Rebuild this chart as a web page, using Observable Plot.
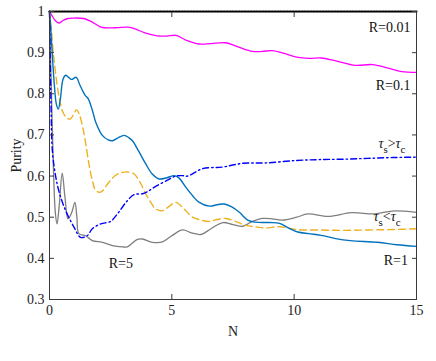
<!DOCTYPE html>
<html>
<head>
<meta charset="utf-8">
<script src="https://cdn.jsdelivr.net/npm/d3@7"></script>
<script src="https://cdn.jsdelivr.net/npm/@observablehq/plot@0.6"></script>
<style>
  body { margin: 0; background: #fff; }
  #chart { width: 436px; height: 361px; }
  #chart svg, #chart svg text { font-family: 'Liberation Serif', serif !important; }
</style>
</head>
<body>
<div id="chart"></div>
<script>
// ---- data ----
const xTicks = [0, 5, 10, 15];
const yTicks = [0.3, 0.4, 0.5, 0.6, 0.7, 0.8, 0.9, 1];

const r001N = [0, 15];
const r001P = [1, 1];

const r01N = [0,0.1,0.25,0.4,0.55,0.75,0.95,1.4,1.7,2.1,2.5,2.8,3.2,3.5,3.9,4.4,4.8,5.16,5.6,6.1,6.6,7.2,7.7,8.3,8.7,9.1,9.6,10.1,10.6,11.1,11.7,12.5,13.2,13.8,14.4,15];
const r01P = [1,0.99,0.977,0.972,0.978,0.983,0.984,0.983,0.976,0.962,0.96,0.961,0.962,0.958,0.948,0.941,0.94,0.942,0.93,0.921,0.922,0.924,0.914,0.903,0.903,0.905,0.898,0.889,0.886,0.887,0.88,0.869,0.871,0.863,0.854,0.852];

const r1N = [0,0.05,0.11,0.2,0.28,0.36,0.45,0.55,0.66,0.78,0.9,1.09,1.25,1.45,1.58,1.75,1.89,2.16,2.4,2.57,2.8,3.05,3.25,3.39,3.65,3.93,4.2,4.48,4.8,5.1,5.3,5.57,5.85,6.12,6.53,6.9,7.15,7.45,7.76,8.1,8.4,9.0,9.4,9.8,10.15,10.6,11.1,11.7,12.3,13.4,14.2,15];
const r1P = [1,0.96,0.9,0.82,0.775,0.763,0.79,0.835,0.845,0.84,0.835,0.84,0.82,0.797,0.788,0.76,0.731,0.699,0.688,0.686,0.693,0.699,0.693,0.686,0.66,0.63,0.605,0.593,0.596,0.601,0.595,0.573,0.552,0.536,0.527,0.531,0.532,0.525,0.512,0.493,0.488,0.487,0.485,0.473,0.464,0.46,0.456,0.448,0.443,0.439,0.433,0.429];

const dashN = [0,0.07,0.14,0.25,0.38,0.55,0.72,0.86,1.0,1.1,1.22,1.34,1.45,1.61,1.75,1.89,2.09,2.43,2.7,2.98,3.2,3.46,3.7,3.93,4.15,4.34,4.62,4.9,5.16,5.5,5.85,6.2,6.53,6.9,7.2,7.6,8.03,8.5,8.85,9.4,10.1,11,12,13,14,15];
const dashP = [1,0.96,0.909,0.85,0.796,0.755,0.741,0.739,0.752,0.761,0.75,0.723,0.69,0.63,0.59,0.565,0.561,0.585,0.602,0.609,0.61,0.605,0.585,0.557,0.535,0.52,0.516,0.527,0.536,0.52,0.5,0.493,0.49,0.495,0.497,0.49,0.48,0.476,0.474,0.477,0.47,0.469,0.468,0.469,0.47,0.472];

const dotDashN = [0,0.06,0.12,0.25,0.4,0.66,1.0,1.27,1.54,1.75,2.1,2.5,2.8,3.18,3.46,3.8,4.0,4.34,4.82,5.16,5.44,5.64,6.26,7.08,7.9,8.85,10.1,11,12,13,14,15];
const dotDashP = [1,0.78,0.66,0.6,0.56,0.516,0.476,0.451,0.455,0.472,0.484,0.49,0.51,0.54,0.555,0.557,0.562,0.575,0.59,0.6,0.601,0.6,0.618,0.622,0.631,0.632,0.638,0.64,0.641,0.643,0.645,0.646];

const r5N = [0,0.08,0.16,0.24,0.31,0.4,0.52,0.63,0.76,0.9,1.04,1.12,1.2,1.48,1.75,2.16,2.57,2.98,3.18,3.59,3.8,4.21,4.62,5.0,5.44,5.8,6.19,6.6,7.08,7.5,7.9,8.3,8.7,9.1,9.5,10.1,10.56,11.4,12.34,13.3,14,15];
const r5P = [1,0.8,0.62,0.51,0.484,0.53,0.607,0.55,0.496,0.51,0.536,0.5,0.46,0.455,0.443,0.439,0.431,0.428,0.428,0.446,0.447,0.439,0.44,0.455,0.469,0.462,0.458,0.472,0.487,0.482,0.478,0.49,0.497,0.496,0.493,0.5,0.508,0.502,0.511,0.508,0.515,0.512];

const labelTexts = ["R=0.01", "R=0.1", "τs>τc", "τs<τc", "R=1", "R=5"];
const labelN = [14.75, 14.75, 14.55, 14.35, 14.65, 2.42];
const labelP = [0.962, 0.82, 0.679, 0.502, 0.395, 0.388];

// ---- build ----
const toRows = (N, P) => N.map((n, i) => ({N: n, P: P[i]}));
const font = "'Liberation Serif', serif";
const frameColor = "#3a3a3a";

const labels = labelTexts.map((t, i) => ({t, N: labelN[i], P: labelP[i]}));
const rightLabels = labels.filter(d => d.N > 10);
const leftLabels = labels.filter(d => d.N <= 10);

const chart = Plot.plot({
  width: 436,
  height: 361,
  marginLeft: 49,
  marginRight: 20,
  marginTop: 11,
  marginBottom: 62,
  style: {fontFamily: font, fontSize: "14px", background: "#fff", color: "#222"},
  x: {domain: [0, 15]},
  y: {domain: [0.3, 1]},
  marks: [
    Plot.line(toRows(r01N, r01P), {x: "N", y: "P", stroke: "#ff00ff", strokeWidth: 1.3, curve: "catmull-rom"}),
    Plot.line(toRows(r5N, r5P), {x: "N", y: "P", stroke: "#7f7f7f", strokeWidth: 1.3, curve: "catmull-rom"}),
    Plot.line(toRows(dashN, dashP), {x: "N", y: "P", stroke: "#edb120", strokeWidth: 1.4, strokeDasharray: "7,4", curve: "catmull-rom"}),
    Plot.line(toRows(r1N, r1P), {x: "N", y: "P", stroke: "#0072bd", strokeWidth: 1.4, curve: "catmull-rom"}),
    Plot.line(toRows(dotDashN, dotDashP), {x: "N", y: "P", stroke: "#0000ff", strokeWidth: 1.4, strokeDasharray: "6,3,1.5,3", curve: "catmull-rom"}),
    Plot.frame({stroke: frameColor, strokeWidth: 1}),
    Plot.line(toRows(r001N, r001P), {x: "N", y: "P", stroke: "#000", strokeWidth: 2.2, strokeDasharray: "1.5,1.5"}),
    // inward ticks
    Plot.axisY(yTicks, {anchor: "left", tickSize: 5, dx: 5, tickFormat: () => "", stroke: frameColor, label: null}),
    Plot.axisY(yTicks, {anchor: "right", tickSize: 5, dx: -5, tickFormat: () => "", stroke: frameColor, label: null}),
    Plot.axisX(xTicks, {anchor: "bottom", tickSize: 5, dy: -5, tickFormat: () => "", stroke: frameColor, label: null}),
    Plot.axisX(xTicks, {anchor: "top", tickSize: 5, dy: 5, tickFormat: () => "", stroke: frameColor, label: null}),
    // tick labels + axis titles
    Plot.axisY(yTicks, {anchor: "left", tickSize: 0, tickPadding: 5, tickFormat: d => String(d), fontSize: 14, label: "Purity", labelAnchor: "center", labelArrow: false, labelOffset: 38}),
    Plot.axisX(xTicks, {anchor: "bottom", tickSize: 0, tickPadding: 6, tickFormat: d => String(d), fontSize: 14, label: "N", labelAnchor: "center", labelArrow: false, labelOffset: 36}),
    // annotations
    Plot.text(rightLabels, {x: "N", y: "P", text: "t", textAnchor: "end", fontSize: 14, fill: "#111"}),
    Plot.text(leftLabels, {x: "N", y: "P", text: "t", textAnchor: "start", fontSize: 14, fill: "#111"})
  ]
});

document.getElementById("chart").appendChild(chart);

// subscripts for tau labels
chart.querySelectorAll("text").forEach(el => {
  const s = el.textContent;
  const m = /^τ(s)([<>])τ(c)$/.exec(s);
  if (!m) return;
  while (el.firstChild) el.removeChild(el.firstChild);
  const ns = "http://www.w3.org/2000/svg";
  const parts = [
    {t: "τ", it: true, dy: 0},
    {t: m[1], small: true, dy: 5},
    {t: m[2], dy: -5},
    {t: "τ", it: true, dy: 0},
    {t: m[3], small: true, dy: 5}
  ];
  parts.forEach(p => {
    const ts = document.createElementNS(ns, "tspan");
    ts.textContent = p.t;
    if (p.dy) ts.setAttribute("dy", p.dy);
    if (p.it) ts.setAttribute("font-style", "italic");
    if (p.small) ts.setAttribute("font-size", "11");
    el.appendChild(ts);
  });
});
</script>
</body>
</html>
